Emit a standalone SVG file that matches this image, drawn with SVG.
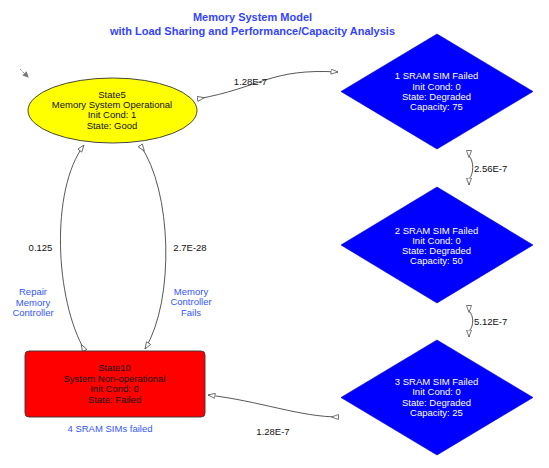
<svg xmlns="http://www.w3.org/2000/svg" width="549" height="468" viewBox="0 0 549 468">
<style>
  text { font-family: "Liberation Sans", Arial, sans-serif; font-size: 9.5px; text-anchor: middle; }
  .title { font-size: 11px; font-weight: bold; fill: #3344ff; }
  .blue { fill: #3355ff; }
  .dark { fill: #111111; }
  .white { fill: #ffffff; }
  .lbl { fill: #111111; }
  .edge { fill: none; stroke: #444444; stroke-width: 0.9; }
</style>
<defs>
  <marker id="tStart" viewBox="0 0 8 6" refX="0" refY="3" markerWidth="8" markerHeight="6" markerUnits="userSpaceOnUse" orient="auto">
    <path d="M0.5,0.5 L7.5,3 L0.5,5.5 Z" fill="#ffffff" stroke="#555555" stroke-width="0.8"/>
  </marker>
  <marker id="tEnd" viewBox="0 0 8 6" refX="7.5" refY="3" markerWidth="8" markerHeight="6" markerUnits="userSpaceOnUse" orient="auto">
    <path d="M0.5,0.5 L7.5,3 L0.5,5.5 Z" fill="#ffffff" stroke="#555555" stroke-width="0.8"/>
  </marker>
  <marker id="init" viewBox="0 0 6 6" refX="5" refY="3" markerWidth="6" markerHeight="6" markerUnits="userSpaceOnUse" orient="auto">
    <path d="M0,0 L6,3 L0,6 Z" fill="#777777"/>
  </marker>
</defs>

<g id="title">
  <text class="title" x="252.5" y="21">Memory System Model</text>
  <text class="title" x="252.5" y="35">with Load Sharing and Performance/Capacity Analysis</text>
</g>

<g id="connectors">
  <line x1="20" y1="69" x2="28" y2="77" stroke="#777777" stroke-width="0.9" stroke-dasharray="1.2,1" marker-end="url(#init)"/>
  <path class="edge" d="M197,99 C260,88 270,68 338,72" marker-start="url(#tStart)" marker-end="url(#tEnd)"/>
  <path class="edge" d="M469,150 L469,156 C474,161 474,174 469,179 L469,185" marker-start="url(#tStart)" marker-end="url(#tEnd)"/>
  <path class="edge" d="M469,305 L469,311 C474,316 474,326 469,331 L469,337" marker-start="url(#tStart)" marker-end="url(#tEnd)"/>
  <path class="edge" d="M339,417 C300,417 260,401 208,395" marker-start="url(#tStart)" marker-end="url(#tEnd)"/>
  <path class="edge" d="M85,351 C55,300 50,190 84,145" marker-start="url(#tStart)" marker-end="url(#tEnd)"/>
  <path class="edge" d="M140,145 C172,190 175,300 145,349" marker-start="url(#tStart)" marker-end="url(#tEnd)"/>
  <text class="lbl" x="250.5" y="84.5">1.28E-7</text>
  <text class="lbl" x="474" y="171.8" style="text-anchor:start">2.56E-7</text>
  <text class="lbl" x="474" y="325" style="text-anchor:start">5.12E-7</text>
  <text class="lbl" x="273" y="435">1.28E-7</text>
  <text class="lbl" x="40.5" y="250.8">0.125</text>
  <text class="lbl" x="190" y="250.8">2.7E-28</text>
  <text class="blue" x="33" y="295">Repair</text>
  <text class="blue" x="33" y="305.5">Memory</text>
  <text class="blue" x="33" y="316">Controller</text>
  <text class="blue" x="191" y="294.5">Memory</text>
  <text class="blue" x="191" y="305">Controller</text>
  <text class="blue" x="191" y="315.5">Fails</text>
</g>

<g id="State5">
  <ellipse cx="112.5" cy="110.5" rx="84.5" ry="32.5" fill="#ffff00" stroke="#333333" stroke-width="0.9"/>
  <text class="dark" x="112" y="98">State5</text>
  <text class="dark" x="112" y="108">Memory System Operational</text>
  <text class="dark" x="112" y="118">Init Cond: 1</text>
  <text class="dark" x="112" y="128.8">State: Good</text>
</g>

<g id="SRAM1">
  <polygon points="437,34 533,91.5 437,149 341,91.5" fill="#0000ff" stroke="#0000cc" stroke-width="0.6"/>
  <text class="white" x="436.5" y="79">1 SRAM SIM Failed</text>
  <text class="white" x="436.5" y="89.6">Init Cond: 0</text>
  <text class="white" x="436.5" y="100">State: Degraded</text>
  <text class="white" x="436.5" y="110">Capacity: 75</text>
</g>

<g id="SRAM2">
  <polygon points="437,187 533,245 437,303 341,245" fill="#0000ff" stroke="#0000cc" stroke-width="0.6"/>
  <text class="white" x="436.5" y="233.5">2 SRAM SIM Failed</text>
  <text class="white" x="436.5" y="243.5">Init Cond: 0</text>
  <text class="white" x="436.5" y="253.5">State: Degraded</text>
  <text class="white" x="436.5" y="264">Capacity: 50</text>
</g>

<g id="SRAM3">
  <polygon points="437,340 533,397.5 437,455 341,397.5" fill="#0000ff" stroke="#0000cc" stroke-width="0.6"/>
  <text class="white" x="436.5" y="385">3 SRAM SIM Failed</text>
  <text class="white" x="436.5" y="394.5">Init Cond: 0</text>
  <text class="white" x="436.5" y="406">State: Degraded</text>
  <text class="white" x="436.5" y="416">Capacity: 25</text>
</g>

<g id="State10">
  <rect x="25" y="351" width="180" height="66" rx="4" ry="4" fill="#ff0000" stroke="#333333" stroke-width="0.9"/>
  <text class="dark" x="114.5" y="371">State10</text>
  <text class="dark" x="114.5" y="382">System Non-operational</text>
  <text class="dark" x="114.5" y="392">Init Cond: 0</text>
  <text class="dark" x="114.5" y="403">State: Failed</text>
  <text class="blue" x="110" y="432">4 SRAM SIMs failed</text>
</g>
</svg>
